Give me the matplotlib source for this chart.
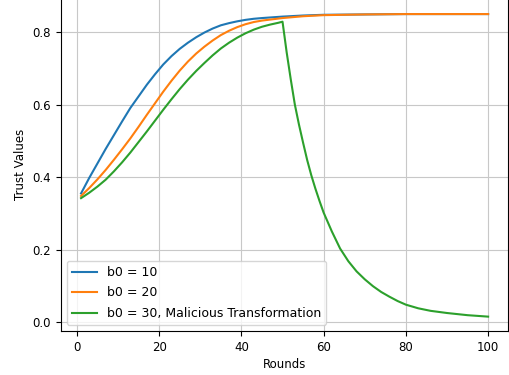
import matplotlib
matplotlib.use("Agg")
import matplotlib.pyplot as plt

plt.rcParams["font.size"] = 8.5

# rounds / trust values
x_b10 = [1, 3, 5, 7, 9, 11, 13, 15, 17, 19, 21, 23, 25, 27, 29, 31, 33, 35, 37, 39, 41,
         43, 45, 50, 55, 60, 70, 80, 90, 100]
y_b10 = [0.355, 0.398, 0.438, 0.478, 0.516, 0.554, 0.591, 0.623, 0.655, 0.684, 0.711,
         0.734, 0.754, 0.771, 0.786, 0.799, 0.810, 0.819, 0.825, 0.830, 0.834,
         0.837, 0.839, 0.843, 0.846, 0.848, 0.849, 0.850, 0.850, 0.850]

x_b20 = [1, 3, 5, 7, 9, 11, 13, 15, 17, 19, 21, 23, 25, 27, 29, 31, 33, 35, 37, 39, 41,
         43, 45, 50, 55, 60, 70, 80, 90, 100]
y_b20 = [0.348, 0.370, 0.394, 0.420, 0.448, 0.477, 0.507, 0.539, 0.572, 0.604, 0.636,
         0.666, 0.694, 0.719, 0.741, 0.760, 0.777, 0.792, 0.804, 0.814, 0.822,
         0.828, 0.832, 0.839, 0.844, 0.847, 0.849, 0.850, 0.850, 0.850]

x_b30 = [1, 3, 5, 7, 9, 11, 13, 15, 17, 19, 21, 23, 25, 27, 29, 31, 33, 35, 37, 39, 41,
         43, 45, 47, 49, 50,
         51, 52, 53, 54, 55, 56, 57, 58, 59, 60, 62, 64, 66, 68, 70,
         72, 74, 76, 78, 80, 83, 86, 90, 95, 100]
y_b30 = [0.342, 0.357, 0.374, 0.393, 0.416, 0.441, 0.468, 0.497, 0.526, 0.556, 0.586,
         0.615, 0.643, 0.669, 0.693, 0.715, 0.736, 0.755, 0.771, 0.785, 0.797,
         0.807, 0.815, 0.821, 0.826, 0.829,
         0.745, 0.670, 0.600, 0.545, 0.495, 0.447, 0.405, 0.368, 0.334, 0.302,
         0.250, 0.203, 0.168, 0.140, 0.118, 0.099, 0.083, 0.070, 0.058, 0.048,
         0.038, 0.031, 0.025, 0.019, 0.015]

fig = plt.figure(figsize=(5.1, 3.75), dpi=100)
ax = fig.add_axes([0.119, 0.117, 0.878, 0.888])

ax.plot(x_b10, y_b10, label="b0 = 10")
ax.plot(x_b20, y_b20, label="b0 = 20")
ax.plot(x_b30, y_b30, label="b0 = 30, Malicious Transformation")

ax.set_xlim(-3.95, 104.95)
ax.set_ylim(-0.025, 0.894)
ax.set_xlabel("Rounds", labelpad=3)
ax.set_ylabel("Trust Values")
ax.grid(True, color="#c8c8c8")
ax.legend(loc="lower left", fontsize=9, labelspacing=0.6)

fig.savefig("out.png", dpi=100)
